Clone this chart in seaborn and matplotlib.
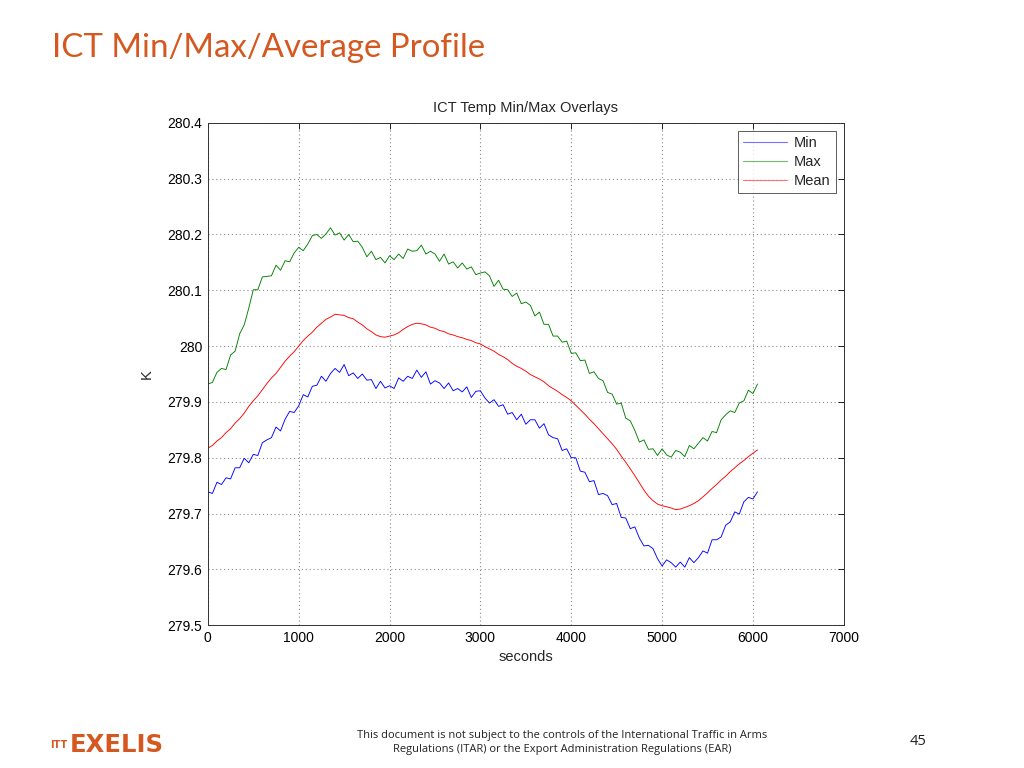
import numpy as np
import pandas as pd
import matplotlib.pyplot as plt
import seaborn as sns
from matplotlib.ticker import FuncFormatter

# sample times (s), one reading every 50 s
seconds = np.arange(0, 6051, 50)

k_min = [279.739, 279.736, 279.756, 279.752, 279.764, 279.762, 279.782, 279.782, 279.799, 279.791,
         279.806, 279.804, 279.827, 279.832, 279.836, 279.855, 279.848, 279.869, 279.883, 279.881,
         279.893, 279.913, 279.909, 279.928, 279.930, 279.946, 279.937, 279.951, 279.960, 279.953,
         279.967, 279.947, 279.952, 279.942, 279.950, 279.939, 279.940, 279.924, 279.937, 279.925,
         279.929, 279.924, 279.943, 279.937, 279.946, 279.942, 279.957, 279.944, 279.954, 279.932,
         279.938, 279.934, 279.924, 279.934, 279.920, 279.924, 279.918, 279.927, 279.908, 279.919,
         279.920, 279.907, 279.898, 279.904, 279.892, 279.895, 279.878, 279.881, 279.868, 279.878,
         279.860, 279.868, 279.868, 279.853, 279.861, 279.841, 279.836, 279.834, 279.813, 279.816,
         279.800, 279.800, 279.776, 279.774, 279.757, 279.759, 279.734, 279.736, 279.732, 279.716,
         279.718, 279.693, 279.692, 279.673, 279.676, 279.656, 279.642, 279.643, 279.637, 279.619,
         279.606, 279.617, 279.612, 279.604, 279.613, 279.604, 279.621, 279.612, 279.621, 279.633,
         279.629, 279.653, 279.653, 279.658, 279.679, 279.685, 279.703, 279.699, 279.721, 279.729,
         279.726, 279.739]

k_max = [279.932, 279.935, 279.953, 279.960, 279.958, 279.984, 279.991, 280.022, 280.038, 280.068,
         280.101, 280.101, 280.124, 280.125, 280.126, 280.145, 280.136, 280.153, 280.151, 280.167,
         280.177, 280.171, 280.183, 280.198, 280.200, 280.193, 280.201, 280.212, 280.199, 280.203,
         280.190, 280.200, 280.187, 280.188, 280.177, 280.160, 280.170, 280.155, 280.159, 280.149,
         280.162, 280.155, 280.165, 280.157, 280.174, 280.170, 280.171, 280.181, 280.165, 280.170,
         280.165, 280.152, 280.165, 280.147, 280.151, 280.140, 280.149, 280.138, 280.142, 280.128,
         280.131, 280.133, 280.126, 280.107, 280.118, 280.102, 280.101, 280.089, 280.095, 280.076,
         280.079, 280.073, 280.054, 280.061, 280.039, 280.039, 280.018, 280.018, 280.007, 280.009,
         279.987, 279.988, 279.974, 279.975, 279.951, 279.954, 279.942, 279.938, 279.917, 279.914,
         279.896, 279.898, 279.871, 279.866, 279.849, 279.828, 279.832, 279.815, 279.816, 279.804,
         279.816, 279.805, 279.801, 279.813, 279.810, 279.802, 279.822, 279.816, 279.826, 279.836,
         279.830, 279.847, 279.845, 279.868, 279.877, 279.884, 279.881, 279.898, 279.902, 279.921,
         279.915, 279.932]

k_mean = [279.817, 279.822, 279.830, 279.836, 279.845, 279.852, 279.862, 279.870, 279.880, 279.892,
          279.902, 279.911, 279.922, 279.933, 279.943, 279.951, 279.962, 279.973, 279.982, 279.990,
          280.000, 280.010, 280.018, 280.025, 280.034, 280.041, 280.048, 280.052, 280.057, 280.056,
          280.055, 280.051, 280.049, 280.043, 280.038, 280.031, 280.026, 280.020, 280.017, 280.016,
          280.018, 280.020, 280.024, 280.030, 280.035, 280.039, 280.041, 280.040, 280.038, 280.034,
          280.032, 280.028, 280.026, 280.022, 280.020, 280.017, 280.015, 280.012, 280.010, 280.006,
          280.004, 279.999, 279.995, 279.991, 279.985, 279.981, 279.976, 279.969, 279.964, 279.960,
          279.955, 279.949, 279.945, 279.941, 279.936, 279.929, 279.924, 279.919, 279.913, 279.908,
          279.902, 279.894, 279.886, 279.878, 279.869, 279.861, 279.852, 279.843, 279.834, 279.825,
          279.815, 279.803, 279.792, 279.780, 279.768, 279.755, 279.742, 279.731, 279.723, 279.717,
          279.714, 279.712, 279.710, 279.707, 279.708, 279.711, 279.714, 279.718, 279.723, 279.730,
          279.737, 279.745, 279.752, 279.760, 279.767, 279.775, 279.782, 279.789, 279.795, 279.802,
          279.808, 279.814]

series_names = ['Min', 'Max', 'Mean']
y_ticks = [279.5, 279.6, 279.7, 279.8, 279.9, 280.0, 280.1, 280.2, 280.3, 280.4]
x_ticks = [0, 1000, 2000, 3000, 4000, 5000, 6000, 7000]

df = pd.DataFrame({
    'seconds': np.concatenate([seconds] * 3),
    'K': k_min + k_max + k_mean,
    'series': np.repeat(series_names, len(seconds)),
})

sns.set_style('white')
plt.rcParams['font.family'] = ['Liberation Sans', 'DejaVu Sans']

fig = plt.figure(figsize=(10.24, 7.68), dpi=100)
ax = fig.add_axes([0.203, 0.186, 0.621, 0.654])

palette = {'Min': '#0000ff', 'Max': '#008000', 'Mean': '#ff0000'}
sns.lineplot(data=df, x='seconds', y='K', hue='series', palette=palette,
             estimator=None, sort=False, linewidth=0.65, ax=ax)

ax.set_xlim(0, 7000)
ax.set_ylim(279.5, 280.4)
ax.set_xticks(x_ticks)
ax.set_yticks(y_ticks)
ax.yaxis.set_major_formatter(FuncFormatter(lambda v, p: f'{v:g}'))
ax.tick_params(direction='in', top=True, right=True, labelsize=10, length=4,
               width=0.6, colors='black', pad=4)
ax.grid(True, color='#8a8a8a', linestyle=(0, (1, 2.5)), linewidth=0.8)
for s in ax.spines.values():
    s.set_color('#333333')
    s.set_linewidth(0.7)

ax.set_title('ICT Temp Min/Max Overlays', fontsize=10.5, pad=8)
ax.set_xlabel('seconds', fontsize=10.5, labelpad=4)
ax.set_ylabel('K', fontsize=10.5, labelpad=10)

leg = ax.legend(loc='upper right', fontsize=10.5, frameon=True, fancybox=False,
                handlelength=3.0, borderpad=0.35, labelspacing=0.33,
                handletextpad=0.5, borderaxespad=0.55)
leg.get_frame().set_edgecolor('#333333')
leg.get_frame().set_linewidth(0.7)
leg.set_title(None)
for line in leg.get_lines():
    line.set_linewidth(0.8)
    line.set_alpha(0.55)

# slide decorations
orange = '#d4581f'
fig.text(0.051, 0.938, 'ICT Min/Max/Average Profile', color=orange, fontsize=23.8,
         family=['Lato', 'DejaVu Sans'], va='center', ha='left')
fig.text(0.549, 0.033, 'This document is not subject to the controls of the International Traffic in Arms\n'
         'Regulations (ITAR) or the Export Administration Regulations (EAR)',
         ha='center', va='center', fontsize=8, family=['Open Sans', 'DejaVu Sans'],
         linespacing=1.45, color='#222222')
fig.text(0.897, 0.034, '45', ha='center', va='center', fontsize=10.5,
         family=['Open Sans', 'DejaVu Sans'], color='#222222')
fig.text(0.049, 0.0305, 'ITT', color=orange, fontsize=7, fontweight='bold',
         family=['DejaVu Sans'], va='center', ha='left')
fig.text(0.0685, 0.0305, 'EXELIS', color=orange, fontsize=17.5, fontweight='bold',
         family=['DejaVu Sans'], va='center', ha='left')

fig.savefig('out.png', dpi=100)
